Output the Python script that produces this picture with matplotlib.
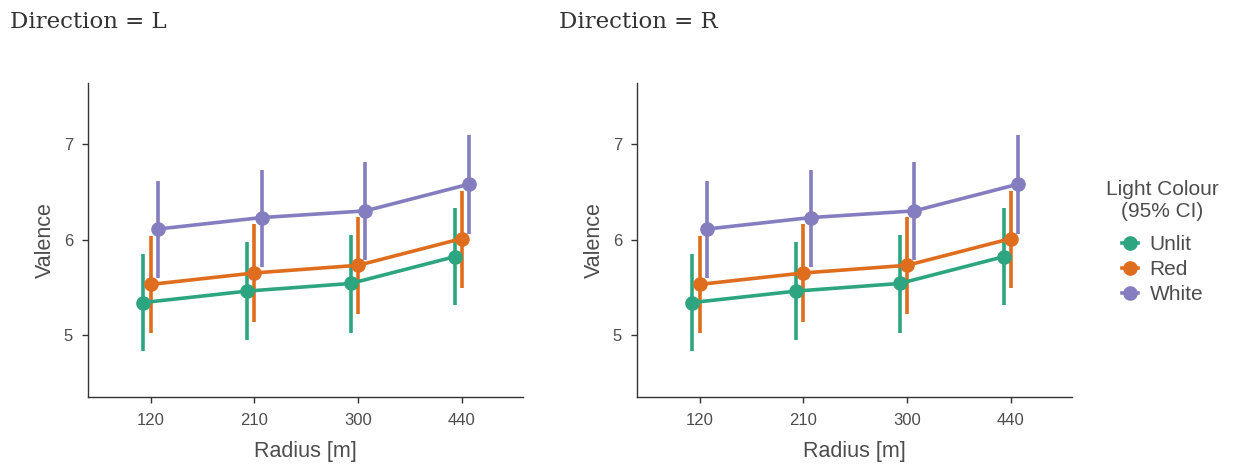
import matplotlib
matplotlib.use("Agg")
import matplotlib.pyplot as plt
from matplotlib.lines import Line2D

radius = ["120", "210", "300", "440"]
directions = ["L", "R"]
colours = ["Unlit", "Red", "White"]

# mean valence and 95% CI per light colour (same for both directions)
unlit_mean = [5.34, 5.46, 5.54, 5.82]
unlit_lo = [4.83, 4.95, 5.02, 5.31]
unlit_hi = [5.85, 5.97, 6.05, 6.33]

red_mean = [5.53, 5.65, 5.73, 6.01]
red_lo = [5.02, 5.14, 5.22, 5.49]
red_hi = [6.04, 6.16, 6.24, 6.51]

white_mean = [6.11, 6.23, 6.30, 6.58]
white_lo = [5.60, 5.71, 5.79, 6.06]
white_hi = [6.61, 6.73, 6.81, 7.09]

means = [unlit_mean, red_mean, white_mean]
lows = [unlit_lo, red_lo, white_lo]
highs = [unlit_hi, red_hi, white_hi]
palette = ["#2CA580", "#DF6D1E", "#847EC0"]
offsets = [-0.07, 0.0, 0.07]

text_col = "#4d4d4d"
plt.rcParams["font.family"] = ["Liberation Sans", "DejaVu Sans"]

fig = plt.figure(figsize=(12.35, 4.66), dpi=100)
lefts = [88.3 / 1235, 637.3 / 1235]

for d, left in zip(directions, lefts):
    ax = fig.add_axes([left, 0.1487, 0.352, 0.6725])
    for m, lo, hi, col, off in zip(means, lows, highs, palette, offsets):
        xs = [i + off for i in range(len(radius))]
        ax.vlines(xs, lo, hi, color=col, lw=2.6, zorder=2)
        ax.plot(xs, m, color=col, lw=2.6, marker="o", ms=9.5, zorder=3)
    ax.set_xlim(-0.6, 3.59)
    ax.set_ylim(4.354, 7.636)
    ax.set_xticks(range(len(radius)))
    ax.set_xticklabels(radius)
    ax.set_yticks([5, 6, 7])
    for s in ["top", "right"]:
        ax.spines[s].set_visible(False)
    for s in ["left", "bottom"]:
        ax.spines[s].set_color("#333333")
        ax.spines[s].set_linewidth(1.0)
    ax.tick_params(colors="#333333", labelcolor=text_col, labelsize=12, length=4, width=1)
    ax.tick_params(axis="x", pad=8)
    ax.tick_params(axis="y", pad=7)
    ax.set_xlabel("Radius [m]", fontsize=15.5, color=text_col, labelpad=9)
    ax.set_ylabel("Valence", fontsize=15.5, color=text_col, labelpad=6)
    fig.text(left - 78 / 1235, 1 - 22 / 466,
             f"Direction = {d}", family="DejaVu Serif", fontsize=16.5,
             color="#333333", va="center", ha="left")

handles = [Line2D([], [], color=c, lw=2.6, marker="o", ms=9.5) for c in palette]
leg = fig.legend(handles, colours, loc="upper left",
                 bbox_to_anchor=(1106 / 1235, 1 - 180 / 466),
                 frameon=False, fontsize=15, title="Light Colour\n(95% CI)",
                 title_fontsize=15, handlelength=0.8, handletextpad=0.55,
                 labelspacing=0.3, borderaxespad=0, borderpad=0)
leg.get_title().set_multialignment("center")
leg.get_title().set_color(text_col)
leg._legend_box.sep = 10
for t in leg.get_texts():
    t.set_color(text_col)

fig.savefig("out.png", dpi=100)
